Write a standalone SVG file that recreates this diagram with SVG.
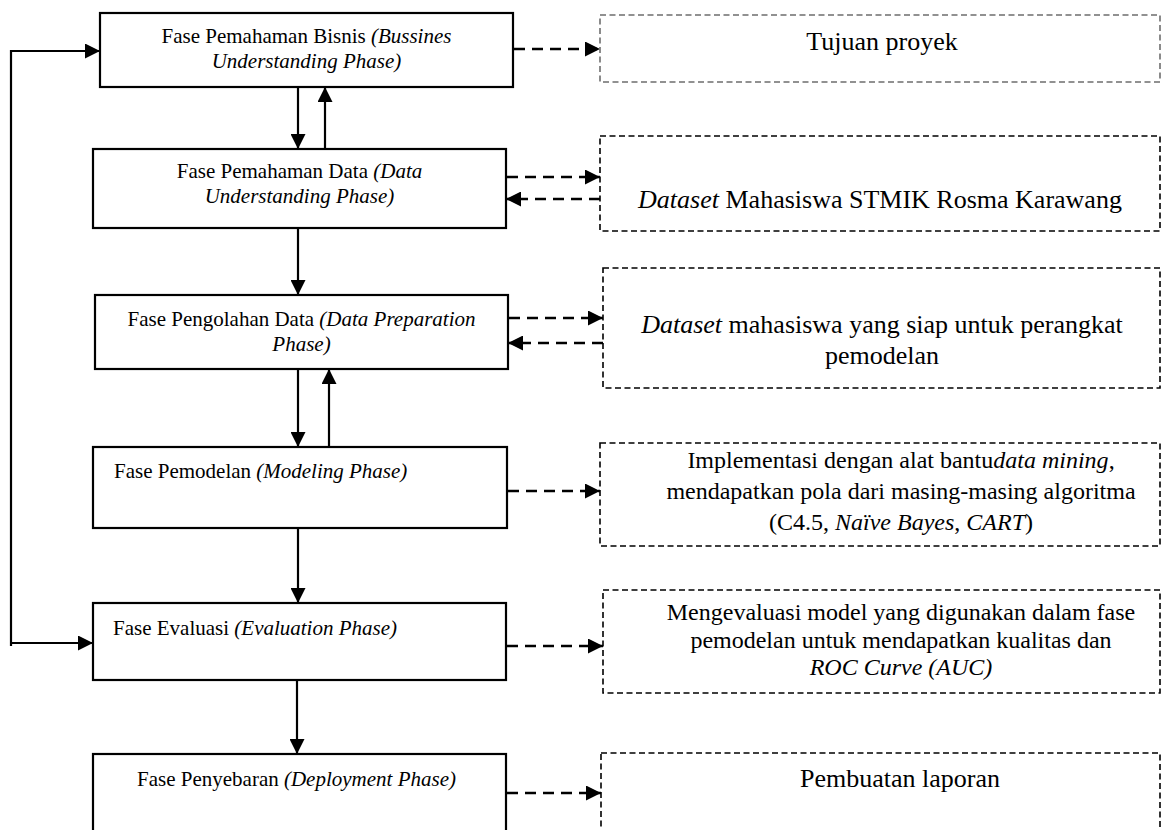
<svg xmlns="http://www.w3.org/2000/svg" width="1162" height="830" viewBox="0 0 1162 830">
<defs>
<style>
.box{fill:#fff;stroke:#000;stroke-width:2.2}
.dbox{fill:#fff;stroke:#000;stroke-width:1.6;stroke-dasharray:6 3.5}
.gbox{fill:#fff;stroke:#6e6e6e;stroke-width:1.6;stroke-dasharray:6 3.5}
.conn{fill:none;stroke:#000;stroke-width:2.2}
.dconn{fill:none;stroke:#000;stroke-width:2.4;stroke-dasharray:11 7}
text{font-family:"Liberation Serif","Times New Roman",serif;fill:#000}
.lt{font-size:21px}
.rt{font-size:26px}
.rs{font-size:24px}
.i{font-style:italic}
</style>
<marker id="ah" markerUnits="userSpaceOnUse" markerWidth="15" markerHeight="15" refX="15" refY="7.5" orient="auto">
<path d="M0,0 L15,7.5 L0,15 Z" fill="#000" stroke="none"/>
</marker>
</defs>
<rect width="1162" height="830" fill="#fff"/>

<g id="connectors">
<polyline class="conn" points="11,646 11,51 100,51" marker-end="url(#ah)"/>
<polyline class="conn" points="11,643 93,643" marker-end="url(#ah)"/>
<line class="conn" x1="298" y1="87" x2="298" y2="149" marker-end="url(#ah)"/>
<line class="conn" x1="325" y1="149" x2="325" y2="87" marker-end="url(#ah)"/>
<line class="conn" x1="298" y1="228" x2="298" y2="295" marker-end="url(#ah)"/>
<line class="conn" x1="298" y1="369" x2="298" y2="447" marker-end="url(#ah)"/>
<line class="conn" x1="329" y1="447" x2="329" y2="369" marker-end="url(#ah)"/>
<line class="conn" x1="298" y1="528" x2="298" y2="603" marker-end="url(#ah)"/>
<line class="conn" x1="297" y1="680" x2="297" y2="754" marker-end="url(#ah)"/>
<line class="dconn" x1="514" y1="49" x2="600" y2="49" marker-end="url(#ah)"/>
<line class="dconn" x1="507" y1="177" x2="600" y2="177" marker-end="url(#ah)"/>
<line class="dconn" x1="600" y1="199" x2="506" y2="199" marker-end="url(#ah)"/>
<line class="dconn" x1="509" y1="318" x2="603" y2="318" marker-end="url(#ah)"/>
<line class="dconn" x1="603" y1="343" x2="508" y2="343" marker-end="url(#ah)"/>
<line class="dconn" x1="508" y1="491" x2="600" y2="491" marker-end="url(#ah)"/>
<line class="dconn" x1="507" y1="646" x2="603" y2="646" marker-end="url(#ah)"/>
<line class="dconn" x1="507" y1="793" x2="601" y2="793" marker-end="url(#ah)"/>
</g>

<g id="n1">
<rect class="box" x="100" y="13" width="413" height="74"/>
<text class="lt" x="306.5" y="43" text-anchor="middle">Fase Pemahaman Bisnis <tspan class="i">(Bussines</tspan></text>
<text class="lt i" x="306.5" y="68" text-anchor="middle">Understanding Phase)</text>
</g>
<g id="n2">
<rect class="box" x="93" y="149" width="413" height="79"/>
<text class="lt" x="299.5" y="178" text-anchor="middle">Fase Pemahaman Data <tspan class="i">(Data</tspan></text>
<text class="lt i" x="299.5" y="203" text-anchor="middle">Understanding Phase)</text>
</g>
<g id="n3">
<rect class="box" x="95" y="295" width="413" height="74"/>
<text class="lt" x="301.5" y="326" text-anchor="middle">Fase Pengolahan Data <tspan class="i">(Data Preparation</tspan></text>
<text class="lt i" x="301.5" y="351" text-anchor="middle">Phase)</text>
</g>
<g id="n4">
<rect class="box" x="93" y="447" width="414" height="81"/>
<text class="lt" x="114" y="478">Fase Pemodelan <tspan class="i">(Modeling Phase)</tspan></text>
</g>
<g id="n5">
<rect class="box" x="93" y="603" width="413" height="77"/>
<text class="lt" x="113" y="635">Fase Evaluasi <tspan class="i">(Evaluation Phase)</tspan></text>
</g>
<g id="n6">
<rect class="box" x="93" y="754" width="413" height="100"/>
<text class="lt" x="137" y="786">Fase Penyebaran <tspan class="i">(Deployment Phase)</tspan></text>
</g>

<g id="r1">
<rect class="gbox" x="600" y="15" width="560" height="67"/>
<text class="rt" x="882" y="50" text-anchor="middle">Tujuan proyek</text>
</g>
<g id="r2">
<rect class="dbox" x="600" y="136" width="560" height="95"/>
<text class="rt" x="880" y="208" text-anchor="middle"><tspan class="i">Dataset</tspan> Mahasiswa STMIK Rosma Karawang</text>
</g>
<g id="r3">
<rect class="dbox" x="603" y="268" width="557" height="120"/>
<text class="rt" x="882" y="333" text-anchor="middle"><tspan class="i">Dataset</tspan> mahasiswa yang siap untuk perangkat</text>
<text class="rt" x="882" y="364" text-anchor="middle">pemodelan</text>
</g>
<g id="r4">
<rect class="dbox" x="600" y="443" width="560" height="103"/>
<text class="rs" x="901" y="468" text-anchor="middle">Implementasi dengan alat bantu<tspan class="i">data mining</tspan>,</text>
<text class="rs" x="901" y="499" text-anchor="middle">mendapatkan pola dari masing-masing algoritma</text>
<text class="rs" x="901" y="530" text-anchor="middle">(C4.5, <tspan class="i">Naïve Bayes</tspan>, <tspan class="i">CART</tspan>)</text>
</g>
<g id="r5">
<rect class="dbox" x="603" y="590" width="557" height="103"/>
<text class="rs" x="901" y="620" text-anchor="middle">Mengevaluasi model yang digunakan dalam fase</text>
<text class="rs" x="901" y="648" text-anchor="middle">pemodelan untuk mendapatkan kualitas dan</text>
<text class="rs i" x="901" y="675" text-anchor="middle">ROC Curve (AUC)</text>
</g>
<g id="r6">
<rect class="dbox" x="601" y="753" width="559" height="100"/>
<text class="rt" x="900" y="787" text-anchor="middle">Pembuatan laporan</text>
</g>
</svg>
